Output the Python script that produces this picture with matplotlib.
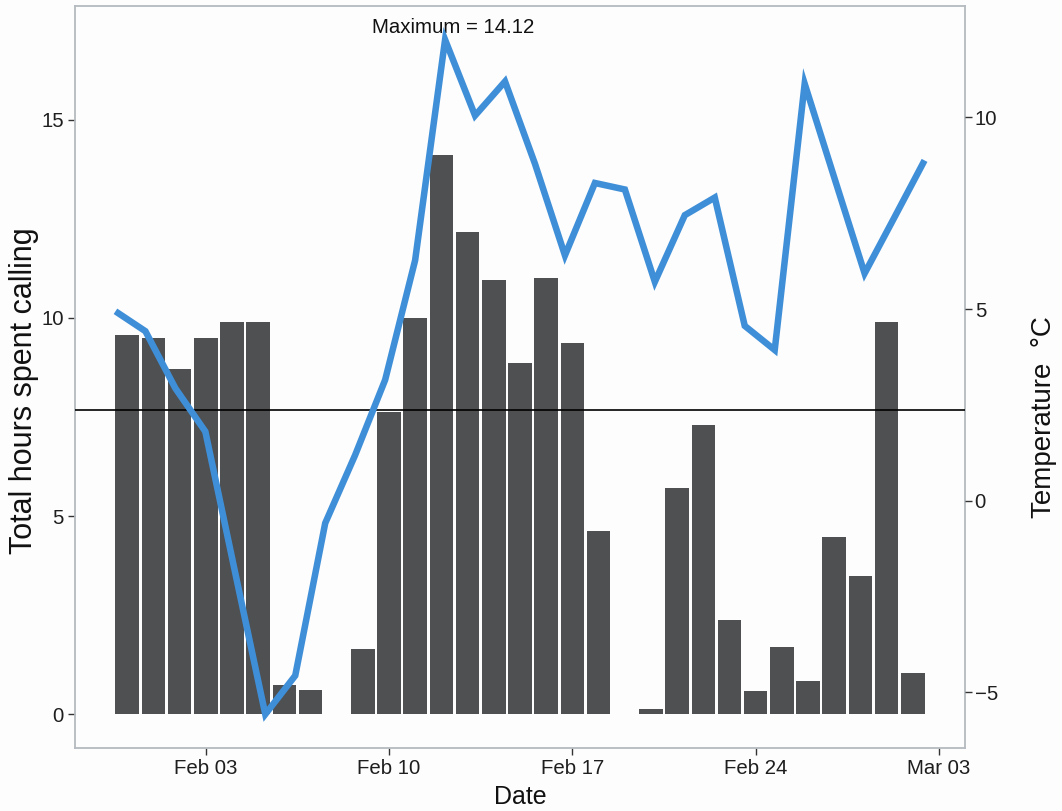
import datetime as dt
import numpy as np
import matplotlib
matplotlib.use("Agg")
import matplotlib.pyplot as plt
import matplotlib.dates as mdates

plt.rcParams["font.family"] = ["Liberation Sans", "DejaVu Sans"]

# Daily calling effort (hours); Feb 08 and Feb 19 have no recordings
call_dates = [
    "2015-01-31", "2015-02-01", "2015-02-02", "2015-02-03", "2015-02-04",
    "2015-02-05", "2015-02-06", "2015-02-07", "2015-02-09", "2015-02-10",
    "2015-02-11", "2015-02-12", "2015-02-13", "2015-02-14", "2015-02-15",
    "2015-02-16", "2015-02-17", "2015-02-18", "2015-02-20", "2015-02-21",
    "2015-02-22", "2015-02-23", "2015-02-24", "2015-02-25", "2015-02-26",
    "2015-02-27", "2015-02-28", "2015-03-01", "2015-03-02",
]
call_hours = [
    9.57, 9.50, 8.70, 9.49, 9.90, 9.90, 0.74, 0.61, 1.65, 7.62,
    9.99, 14.12, 12.16, 10.96, 8.87, 11.02, 9.38, 4.62, 0.13, 5.70,
    7.30, 2.37, 0.59, 1.71, 0.84, 4.47, 3.49, 9.90, 1.05,
]
reference_hours = 7.67

# Mean daily temperature (°C), one reading per survey day
temperature = [
    4.94, 4.42, 2.93, 1.80, -1.90, -5.58, -4.57, -0.59, 1.19, 3.15,
    6.27, 12.03, 10.05, 10.94, 8.79, 6.40, 8.29, 8.12, 5.71, 7.45,
    7.91, 4.56, 3.93, 10.88, 8.40, 5.93, 7.40, 8.88,
]

x_ticks = ["2015-02-03", "2015-02-10", "2015-02-17", "2015-02-24", "2015-03-03"]
x_tick_labels = ["Feb 03", "Feb 10", "Feb 17", "Feb 24", "Mar 03"]
y_ticks = [0, 5, 10, 15]
t_ticks = [-5, 0, 5, 10]

max_label = "Maximum = 14.12"

W, H = 1062, 811
fig = plt.figure(figsize=(W / 100, H / 100), dpi=100)
fig.patch.set_facecolor("#fdfdfd")

pos = [75 / W, 1 - 748 / H, (965 - 75) / W, (748 - 6) / H]
ax = fig.add_axes(pos)
ax.set_facecolor("#fdfdfd")

tick_color = "#333333"
label_color = "#1e1e1e"
border = "#b4bac0"
bar_color = "#4e5052"
line_color = "#3f8fd8"

dates = [mdates.date2num(dt.datetime.strptime(d, "%Y-%m-%d")) for d in call_dates]
bar_w = 0.9
ax.bar(dates, call_hours, width=bar_w, color=bar_color, edgecolor="none", zorder=2)
ax.axhline(reference_hours, color="black", lw=1.2, zorder=3)

lo = min(dates) - bar_w / 2
hi = max(dates) + bar_w / 2
span = hi - lo
ax.set_xlim(lo - 0.05 * span, hi + 0.05 * span)
ax.set_ylim(-0.85, 17.87)

ax.set_xticks([mdates.date2num(dt.datetime.strptime(d, "%Y-%m-%d")) for d in x_ticks])
ax.set_xticklabels(x_tick_labels)
ax.set_yticks(y_ticks)
ax.set_yticklabels([str(v) for v in y_ticks])
ax.tick_params(axis="both", length=5, width=1.0, color=tick_color,
               labelsize=14.7, labelcolor=label_color, pad=3)
for s in ax.spines.values():
    s.set_color(border)
    s.set_linewidth(1.3)

# Annotation of the busiest night
peak_i = int(np.argmax(call_hours))
ax.text(dates[peak_i] + 0.45, 17.34, f"Maximum = {max(call_hours):.2f}",
        ha="center", va="center", fontsize=14.7, color="#111111", zorder=5)

# Temperature series on its own overlay axes, right-hand scale
ax3 = fig.add_axes(pos, sharey=None)
ax3.patch.set_alpha(0)
idx = np.arange(len(temperature))
n = len(temperature) - 1
ax3.plot(idx, temperature, color=line_color, lw=4.7, solid_joinstyle="miter",
         solid_capstyle="butt", zorder=4)
ax3.set_xlim(-0.05 * n, n * 1.05)
tmin, tmax = min(temperature), max(temperature)
tpad = 0.05 * (tmax - tmin)
ax3.set_ylim(tmin - tpad, tmax + tpad)
ax3.xaxis.set_visible(False)
ax3.yaxis.tick_right()
ax3.set_yticks(t_ticks)
ax3.set_yticklabels([("\u2212" + str(-v)) if v < 0 else str(v) for v in t_ticks])
ax3.tick_params(axis="y", length=5, width=1.0, color=tick_color,
                labelsize=14.7, labelcolor=label_color, pad=2)
for s in ax3.spines.values():
    s.set_visible(False)

# Axis titles
fig.text(24 / W, 1 - 391 / H, "Total hours spent calling", rotation=90,
         ha="center", va="center", fontsize=22, color="#111111")
fig.text(1044 / W, 1 - 417 / H, "Temperature  °C", rotation=90,
         ha="center", va="center", fontsize=20, color="#111111")
fig.text(520 / W, 1 - 797 / H, "Date", ha="center", va="center",
         fontsize=18, color="#111111")

fig.savefig("out.png", dpi=100, facecolor=fig.get_facecolor())
